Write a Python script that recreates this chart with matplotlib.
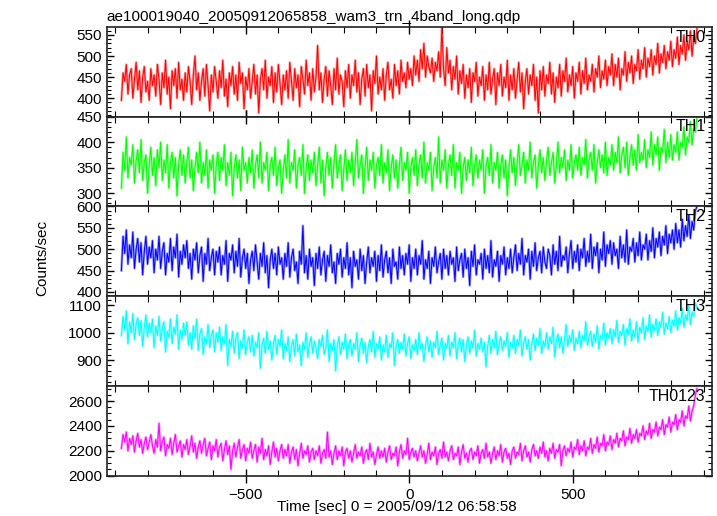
import numpy as np
import matplotlib
matplotlib.use("Agg")
import matplotlib.pyplot as plt
from matplotlib.ticker import MultipleLocator

plt.rcParams['font.family'] = ['Liberation Sans', 'DejaVu Sans']

title = "ae100019040_20050912065858_wam3_trn_4band_long.qdp"
time = np.arange(-880, 881, 5)

# counts/sec, one value every 5 s
th0 = [395, 460, 440, 480, 410, 455, 470, 400, 445, 485, 420, 465, 390, 450, 475, 415, 440, 395, 470, 430,
       455, 405, 480, 445, 385, 460, 425, 490, 410, 450, 375, 465, 430, 470, 400, 485, 420, 445, 395, 460,
       415, 475, 440, 385, 455, 500, 420, 460, 395, 440, 470, 405, 480, 430, 370, 455, 415, 475, 440, 400,
       465, 425, 490, 405, 445, 380, 460, 430, 475, 410, 455, 395, 485, 435, 460, 375, 450, 420, 470, 400,
       440, 480, 410, 455, 365, 445, 470, 420, 490, 400, 450, 430, 475, 390, 460, 415, 480, 435, 385, 455,
       420, 465, 400, 485, 440, 395, 470, 425, 455, 380, 475, 445, 410, 490, 430, 460, 395, 470, 415, 450,
       525, 420, 460, 390, 445, 475, 405, 465, 430, 385, 470, 420, 495, 410, 455, 440, 380, 465, 425, 480,
       400, 455, 430, 490, 415, 460, 385, 445, 470, 405, 480, 425, 455, 370, 465, 435, 500, 410, 450, 420,
       470, 395, 455, 485, 420, 445, 400, 480, 430, 465, 410, 490, 440, 460, 425, 485, 445, 470, 430, 500,
       455, 490, 440, 515, 470, 530, 450, 500, 475, 460, 495, 440, 485, 465, 510, 450, 570, 470, 430, 520,
       460, 490, 420, 475, 445, 500, 410, 465, 435, 480, 400, 455, 425, 470, 390, 460, 440, 485, 405, 450,
       430, 475, 395, 455, 420, 485, 410, 445, 470, 385, 460, 430, 480, 405, 450, 425, 490, 395, 455, 420,
       470, 400, 445, 485, 415, 460, 375, 440, 470, 410, 455, 430, 480, 395, 450, 365, 465, 420, 475, 405,
       455, 435, 485, 410, 460, 390, 450, 425, 480, 405, 465, 440, 495, 415, 455, 430, 475, 400, 460, 440,
       485, 410, 465, 435, 495, 420, 455, 440, 480, 415, 470, 450, 500, 425, 465, 445, 490, 430, 475, 455,
       505, 430, 480, 450, 495, 420, 470, 455, 510, 440, 485, 460, 500, 435, 480, 465, 515, 445, 490, 470,
       520, 450, 495, 475, 515, 455, 500, 480, 530, 460, 505, 485, 525, 470, 510, 490, 535, 475, 515, 495,
       545, 480, 525, 505, 550, 490, 535, 515, 560, 500, 545, 530, 565]

th1 = [310, 380, 345, 410, 330, 370, 355, 395, 320, 365, 385, 340, 405, 325, 360, 375, 300, 355, 390, 335,
       370, 315, 385, 350, 400, 325, 365, 340, 395, 310, 360, 380, 330, 370, 295, 355, 385, 335, 375, 320,
       360, 390, 330, 365, 305, 350, 380, 340, 400, 320, 360, 335, 385, 310, 365, 345, 375, 300, 355, 380,
       325, 370, 345, 395, 315, 360, 335, 380, 295, 350, 375, 330, 365, 305, 390, 345, 360, 320, 370, 340,
       385, 310, 355, 375, 330, 400, 320, 360, 345, 380, 305, 355, 370, 335, 390, 315, 350, 365, 300, 345,
       375, 330, 405, 320, 360, 345, 385, 310, 355, 370, 335, 395, 300, 350, 375, 325, 365, 340, 380, 315,
       355, 390, 320, 365, 295, 350, 380, 335, 370, 310, 360, 395, 330, 355, 375, 305, 345, 385, 325, 365,
       340, 380, 315, 360, 405, 330, 355, 375, 300, 350, 390, 325, 365, 345, 380, 310, 355, 370, 335, 395,
       320, 360, 340, 385, 305, 350, 375, 330, 365, 310, 355, 390, 325, 360, 345, 380, 300, 350, 370, 335,
       385, 315, 355, 375, 330, 400, 320, 360, 345, 380, 305, 350, 370, 330, 410, 320, 365, 345, 385, 310,
       355, 375, 335, 395, 310, 360, 345, 380, 300, 350, 370, 325, 365, 340, 390, 315, 355, 375, 330, 365,
       345, 385, 300, 355, 370, 335, 395, 320, 360, 345, 380, 310, 355, 375, 330, 365, 295, 350, 385, 340,
       370, 315, 360, 395, 335, 355, 380, 320, 365, 345, 400, 330, 360, 375, 310, 355, 385, 340, 370, 325,
       365, 390, 335, 360, 380, 320, 355, 400, 340, 370, 350, 385, 325, 365, 345, 395, 330, 360, 375, 345,
       390, 335, 370, 355, 405, 330, 365, 380, 345, 395, 320, 360, 385, 350, 375, 340, 400, 335, 370, 355,
       395, 345, 380, 360, 410, 340, 375, 390, 350, 400, 335, 370, 395, 355, 385, 345, 415, 360, 380, 365,
       405, 350, 385, 370, 420, 355, 395, 375, 410, 345, 390, 380, 425, 360, 400, 370, 415, 365, 395, 380,
       420, 365, 400, 390, 430, 375, 410, 400, 440, 395, 425, 420, 450]

th2 = [450, 530, 490, 545, 465, 510, 480, 540, 455, 500, 525, 470, 515, 440, 495, 530, 465, 505, 480, 520,
       445, 500, 475, 530, 455, 495, 515, 440, 490, 470, 525, 450, 505, 480, 535, 435, 495, 465, 510, 480,
       520, 455, 490, 430, 500, 475, 515, 445, 485, 505, 425, 490, 465, 525, 450, 480, 500, 440, 495, 470,
       505, 440, 485, 465, 520, 425, 490, 475, 510, 445, 495, 460, 525, 435, 480, 500, 455, 490, 420, 475,
       495, 450, 510, 470, 430, 490, 460, 515, 445, 485, 410, 475, 500, 455, 490, 440, 505, 465, 480, 430,
       490, 460, 515, 435, 480, 500, 450, 470, 420, 495, 465, 555, 445, 485, 430, 500, 460, 480, 415, 490,
       455, 505, 440, 475, 495, 425, 485, 460, 510, 445, 470, 420, 490, 465, 500, 435, 480, 455, 515, 440,
       480, 410, 495, 460, 475, 430, 500, 450, 485, 420, 470, 505, 445, 480, 460, 495, 425, 485, 450, 510,
       435, 475, 495, 445, 480, 420, 500, 460, 470, 430, 505, 455, 485, 440, 490, 465, 510, 425, 480, 455,
       500, 440, 485, 465, 520, 430, 475, 455, 495, 420, 480, 460, 505, 445, 470, 490, 430, 500, 455, 485,
       440, 495, 465, 480, 425, 505, 450, 475, 490, 435, 500, 455, 480, 415, 495, 460, 510, 440, 475, 465,
       490, 430, 500, 455, 485, 445, 520, 435, 475, 460, 495, 425, 485, 465, 505, 440, 480, 455, 500, 445,
       480, 510, 450, 490, 465, 525, 440, 485, 470, 500, 430, 495, 460, 515, 450, 480, 495, 445, 505, 470,
       455, 500, 485, 440, 510, 465, 495, 450, 530, 460, 485, 475, 505, 445, 490, 520, 455, 495, 470, 510,
       450, 500, 480, 525, 460, 495, 470, 535, 455, 505, 485, 515, 445, 500, 475, 540, 460, 510, 490, 520,
       465, 515, 485, 500, 455, 530, 480, 510, 470, 545, 465, 505, 495, 525, 470, 515, 485, 540, 475, 510,
       500, 535, 475, 520, 495, 550, 480, 525, 505, 540, 485, 530, 510, 555, 490, 535, 515, 545, 500, 560,
       515, 545, 505, 570, 520, 555, 530, 580, 525, 565, 545, 590, 600]

th3 = [990, 1060, 1010, 1080, 960, 1040, 1000, 1070, 975, 1030, 1055, 990, 1045, 950, 1020, 1065, 985, 1035, 1000, 1050,
       945, 1025, 990, 1060, 970, 1015, 1040, 930, 1005, 985, 1050, 960, 1020, 995, 1065, 940, 1010, 975, 1035, 990,
       1040, 955, 1000, 940, 1025, 980, 1050, 935, 995, 1015, 920, 985, 960, 1030, 945, 990, 1010, 930, 1000, 965,
       1020, 935, 985, 960, 1030, 880, 975, 950, 1005, 925, 980, 1000, 905, 970, 945, 1010, 920, 965, 985, 930,
       990, 915, 965, 945, 1000, 870, 955, 980, 925, 1005, 940, 970, 900, 960, 990, 920, 975, 950, 1010, 905,
       960, 935, 985, 895, 950, 975, 915, 995, 930, 955, 880, 965, 940, 1000, 910, 960, 985, 925, 970, 945,
       905, 975, 950, 990, 920, 945, 1010, 895, 960, 935, 975, 860, 950, 985, 920, 965, 940, 995, 905, 955,
       975, 915, 960, 940, 1000, 895, 955, 980, 925, 965, 890, 950, 975, 930, 1005, 910, 960, 940, 985, 900,
       955, 930, 990, 910, 960, 945, 1000, 880, 950, 975, 925, 965, 940, 995, 915, 960, 985, 905, 955, 935,
       975, 920, 1000, 940, 960, 895, 955, 985, 930, 970, 910, 965, 945, 1005, 920, 955, 980, 900, 960, 945,
       990, 915, 965, 945, 1000, 905, 960, 980, 930, 975, 895, 955, 985, 925, 970, 945, 1010, 915, 960, 940,
       980, 930, 965, 875, 950, 990, 925, 975, 945, 1005, 920, 960, 985, 935, 970, 950, 1000, 910, 965, 945,
       990, 925, 975, 955, 1010, 915, 960, 985, 940, 975, 900, 960, 995, 935, 980, 955, 1015, 925, 970, 950,
       1000, 940, 985, 960, 1020, 910, 970, 995, 945, 985, 925, 975, 1030, 950, 990, 965, 1010, 935, 980, 960,
       1005, 945, 990, 970, 1040, 955, 985, 1005, 950, 995, 965, 1025, 940, 990, 975, 1035, 955, 1000, 980, 1015,
       960, 1010, 985, 1045, 965, 1005, 990, 1030, 955, 1015, 995, 1050, 970, 1010, 985, 1040, 965, 1020, 1000, 1055,
       975, 1025, 1005, 1065, 985, 1030, 1010, 1050, 990, 1040, 1020, 1075, 995, 1035, 1015, 1060, 1000, 1045, 1025, 1080,
       1010, 1055, 1035, 1090, 1020, 1065, 1045, 1100, 1030, 1075, 1060, 1110, 1090]

th0123 = [2220, 2330, 2270, 2350, 2200, 2300, 2250, 2320, 2190, 2280, 2340, 2230, 2290, 2180, 2260, 2310, 2210, 2270, 2330, 2240,
          2180, 2290, 2230, 2420, 2200, 2270, 2310, 2160, 2250, 2220, 2300, 2170, 2260, 2330, 2190, 2240, 2280, 2150, 2250, 2210,
          2290, 2170, 2240, 2320, 2190, 2260, 2140, 2230, 2280, 2180, 2250, 2300, 2160, 2220, 2270, 2130, 2240, 2200, 2290, 2150,
          2230, 2260, 2120, 2210, 2280, 2170, 2240, 2050, 2200, 2260, 2150, 2230, 2290, 2140, 2210, 2250, 2120, 2220, 2180, 2270,
          2140, 2200, 2250, 2110, 2230, 2180, 2300, 2130, 2210, 2160, 2240, 2090, 2190, 2270, 2150, 2220, 2120, 2200, 2250, 2140,
          2210, 2160, 2250, 2100, 2190, 2230, 2130, 2210, 2080, 2180, 2260, 2140, 2200, 2170, 2240, 2110, 2190, 2220, 2130, 2200,
          2160, 2240, 2100, 2180, 2210, 2140, 2350, 2150, 2200, 2090, 2180, 2240, 2130, 2200, 2160, 2230, 2080, 2190, 2220, 2140,
          2200, 2110, 2180, 2250, 2140, 2190, 2160, 2230, 2100, 2180, 2210, 2130, 2260, 2150, 2190, 2090, 2170, 2230, 2140, 2200,
          2150, 2220, 2110, 2190, 2240, 2130, 2180, 2160, 2230, 2080, 2190, 2250, 2140, 2200, 2170, 2300, 2130, 2190, 2220, 2150,
          2200, 2120, 2180, 2240, 2150, 2200, 2100, 2170, 2260, 2130, 2190, 2160, 2230, 2090, 2180, 2210, 2140, 2270, 2150, 2190,
          2120, 2200, 2240, 2130, 2180, 2160, 2230, 2090, 2190, 2250, 2140, 2180, 2110, 2200, 2220, 2130, 2190, 2160, 2240, 2100,
          2180, 2210, 2140, 2260, 2150, 2190, 2100, 2180, 2230, 2130, 2200, 2160, 2250, 2110, 2190, 2220, 2140, 2180, 2090, 2200,
          2230, 2140, 2190, 2170, 2260, 2120, 2200, 2240, 2150, 2190, 2110, 2210, 2250, 2160, 2200, 2140, 2230, 2180, 2270, 2150,
          2200, 2120, 2220, 2180, 2260, 2140, 2210, 2190, 2250, 2080, 2200, 2240, 2160, 2220, 2190, 2270, 2150, 2230, 2210, 2290,
          2170, 2240, 2200, 2280, 2160, 2230, 2210, 2300, 2180, 2250, 2220, 2310, 2190, 2260, 2240, 2330, 2200, 2270, 2250, 2320,
          2210, 2290, 2260, 2340, 2230, 2300, 2280, 2360, 2240, 2310, 2290, 2380, 2260, 2330, 2300, 2370, 2270, 2340, 2320, 2400,
          2290, 2360, 2330, 2420, 2300, 2370, 2350, 2430, 2320, 2390, 2370, 2450, 2330, 2410, 2390, 2470, 2350, 2430, 2410, 2490,
          2370, 2450, 2430, 2520, 2400, 2480, 2460, 2560, 2440, 2520, 2560, 2650, 2700]

series = [th0, th1, th2, th3, th0123]
names = ["TH0", "TH1", "TH2", "TH3", "TH0123"]
colors = ["#ff0000", "#00ff00", "#0000ff", "#00ffff", "#ff00ff"]
ylims = [(356, 569), (274, 450), (390, 600), (805, 1134), (2000, 2721)]
yticks = [[400, 450, 500, 550], [300, 350, 400, 450], [400, 450, 500, 550, 600],
          [900, 1000, 1100], [2000, 2200, 2400, 2600]]
yminor = [10, 10, 10, 20, 50]

fig = plt.figure(figsize=(7.17, 5.16), dpi=100)
fig.subplots_adjust(left=0.1488, right=0.9926, top=0.9477, bottom=0.0781, hspace=0)
axes = fig.subplots(5, 1, sharex=True)

for i, ax in enumerate(axes):
    # light halo under the line, like the error bars in the qdp plot
    ax.plot(time, series[i], c=colors[i], lw=1.8, alpha=0.4)
    ax.plot(time, series[i], c=colors[i], lw=0.7)
    ax.set_xlim(-925, 925)
    ax.set_ylim(*ylims[i])
    ax.set_yticks(yticks[i])
    ax.yaxis.set_minor_locator(MultipleLocator(yminor[i]))
    ax.xaxis.set_major_locator(MultipleLocator(500))
    ax.xaxis.set_minor_locator(MultipleLocator(100))
    ax.tick_params(axis='y', which='major', direction='in', length=5, right=True,
                   labelsize=11, width=1)
    ax.tick_params(axis='y', which='minor', direction='in', length=3, right=True, width=0.8)
    ax.tick_params(axis='x', which='major', direction='inout', length=10, top=True,
                   labelsize=11, width=1)
    ax.tick_params(axis='x', which='minor', direction='in', length=4, top=True, width=0.8)
    for s in ax.spines.values():
        s.set_linewidth(1.2)
        s.set_color('#222222')
    ax.text(0.99, 0.97, names[i], transform=ax.transAxes, ha='right', va='top',
            fontsize=11.5)

axes[0].set_title(title, loc='left', fontsize=11, pad=4)
fig.text(0.0586, 0.5, "Counts/sec", rotation=90, ha='center', va='center', fontsize=11)
fig.text(0.5537, 0.0174, "Time [sec] 0 = 2005/09/12 06:58:58", ha='center', va='center',
         fontsize=11)

fig.savefig("out.png", dpi=100)
